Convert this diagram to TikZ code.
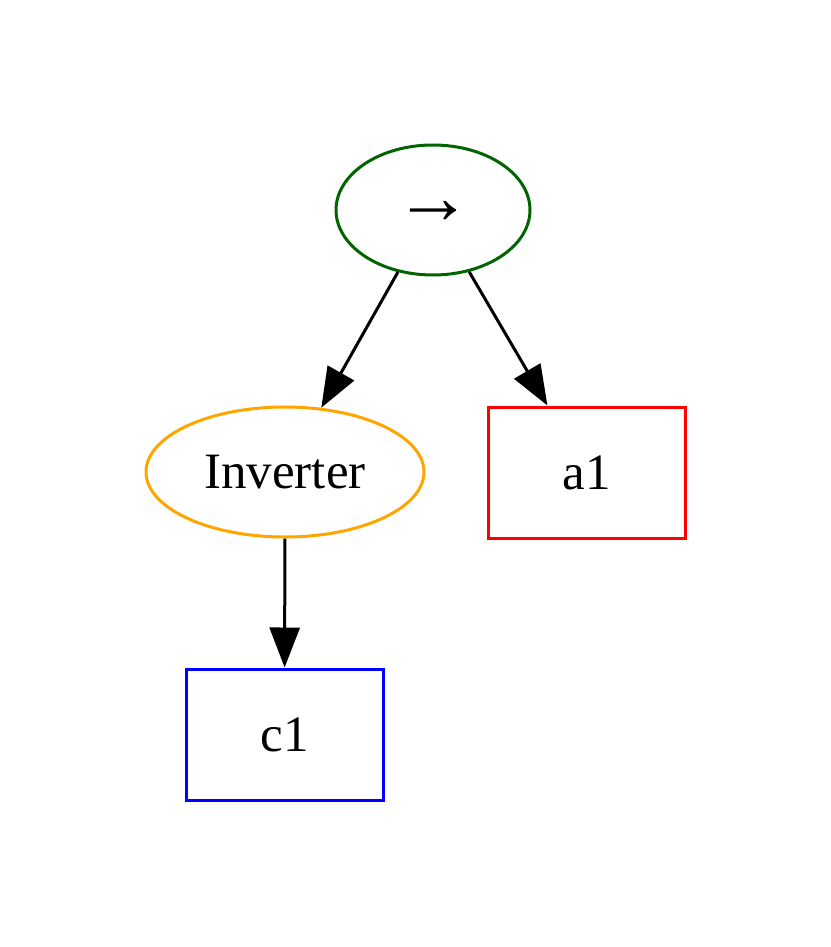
\documentclass[tikz,border=0pt]{standalone}
\usepackage{fontspec}
\setmainfont{Liberation Serif}
\usetikzlibrary{arrows.meta,shapes.geometric}
\definecolor{gvgreen}{RGB}{0,100,0}
\definecolor{gvorange}{RGB}{255,165,0}
\begin{document}
\begin{tikzpicture}[x=1pt,y=-1pt,
  lbl/.style={font=\fontsize{51}{60}\selectfont, inner sep=0pt},
  ell/.style={lbl, ellipse, draw, line width=3pt},
  box/.style={lbl, rectangle, draw, line width=3pt},
  edge/.style={line width=3pt, -{Triangle[length=40pt,width=30pt]}}]
\useasboundingbox (0,0) rectangle (830,947);
\node[ell, draw=gvgreen, minimum width=194pt, minimum height=130pt, text=black] (root) at (433,210) {};
\node[font=\fontsize{78}{80}\selectfont, inner sep=0pt] (arr) at (433,212) {→};
\node[ell, draw=gvorange, minimum width=278pt, minimum height=130pt, text=black] (inv) at (285,472) {Inverter};
\node[box, draw=red, minimum width=197pt, minimum height=131pt, text=black] (a1) at (586.5,472.5) {a1};
\node[box, draw=blue, minimum width=197pt, minimum height=131pt, text=black] (c1) at (284.5,734.5) {c1};
\draw[edge] (root) -- (inv);
\draw[edge] (root) -- (a1);
\draw[edge] (inv) -- (c1);
\end{tikzpicture}
\end{document}
